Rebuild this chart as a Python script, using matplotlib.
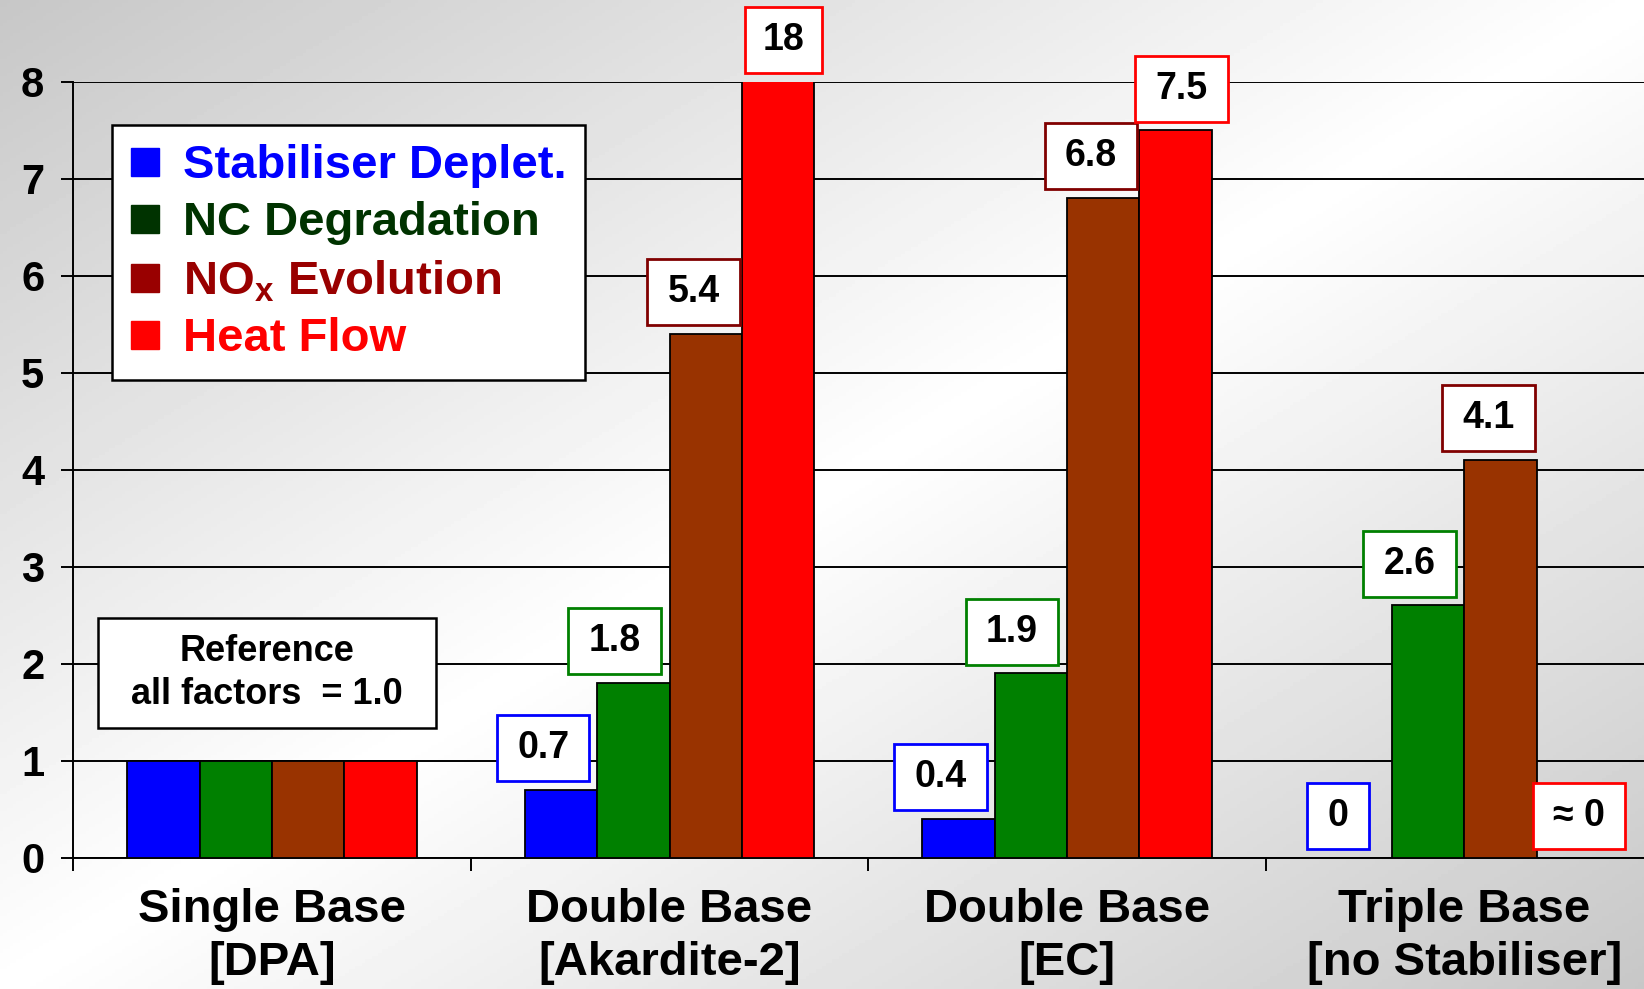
import matplotlib
matplotlib.use("Agg")
import matplotlib.pyplot as plt
import matplotlib.transforms as mtransforms
from matplotlib.lines import Line2D
from matplotlib.patches import Rectangle
import numpy as np

plt.rcParams["font.family"] = ["Liberation Sans", "DejaVu Sans"]
plt.rcParams["font.weight"] = "bold"
plt.rcParams["mathtext.fontset"] = "custom"
plt.rcParams["mathtext.rm"] = "Liberation Sans:bold"
plt.rcParams["mathtext.default"] = "rm"

categories = ["Single Base\n[DPA]", "Double Base\n[Akardite-2]",
              "Double Base\n[EC]", "Triple Base\n[no Stabiliser]"]
series = ["Stabiliser Deplet.", "NC Degradation", "NO$_x$ Evolution", "Heat Flow"]

stab = [1.0, 0.7, 0.4, 0.0]
nc = [1.0, 1.8, 1.9, 2.6]
nox = [1.0, 5.4, 6.8, 4.1]
heat = [1.0, 18.0, 7.5, 0.0]

stab_lbl = [None, "0.7", "0.4", "0"]
nc_lbl = [None, "1.8", "1.9", "2.6"]
nox_lbl = [None, "5.4", "6.8", "4.1"]
heat_lbl = [None, "18", "7.5", "\u2248 0"]

bar_colors = ["#0000FF", "#008000", "#993300", "#FF0000"]
text_colors = ["#0000FF", "#003300", "#990000", "#FF0000"]
box_colors = ["#0000FF", "#008000", "#800000", "#FF0000"]
lbl_dx = [-0.045, -0.047, -0.03, 0.015]

W, H = 1644, 989
fig = plt.figure(figsize=(W / 100, H / 100), dpi=100)

# background gradient (light along the anti-diagonal, grey at two corners)
bg = fig.add_axes([0, 0, 1, 1], zorder=-10)
yy, xx = np.mgrid[0:1:300j, 0:1:500j]
d = np.abs(xx + yy - 1)
bg.imshow(1 - 0.22 * d, cmap="gray", vmin=0, vmax=1, aspect="auto",
          extent=[0, 1, 1, 0])
bg.axis("off")

ax = fig.add_axes([73.4 / W, 1 - 857.6 / H, 1589.6 / W, 775.8 / H])
ax.set_facecolor("none")

x = np.arange(len(categories))
w = 0.182
ymax = 8
all_vals = [stab, nc, nox, heat]
all_lbls = [stab_lbl, nc_lbl, nox_lbl, heat_lbl]


def boxed(cx, cy, bw, bh, ec, lw):
    # rectangle of fixed size (inches) centred on a data point
    trans = fig.dpi_scale_trans + mtransforms.ScaledTranslation(cx, cy, ax.transData)
    ax.add_artist(Rectangle((-bw / 2, -bh / 2), bw, bh, transform=trans,
                            facecolor="white", edgecolor=ec,
                            linewidth=lw, clip_on=False, zorder=5))


for k, vals in enumerate(all_vals):
    xs = x + (k - 1.5) * w
    ax.bar(xs, vals, w, color=bar_colors[k], edgecolor="black", linewidth=1.3, zorder=3)
    for xi, v, lbl in zip(xs, vals, all_lbls[k]):
        if lbl is None:
            continue
        cx = xi + lbl_dx[k]
        cy = min(v, ymax) + 0.43
        boxed(cx, cy, 0.46 + 0.155 * len(lbl), 0.66, box_colors[k], 2)
        ax.text(cx, cy, lbl, ha="center", va="center", fontsize=27,
                fontweight="bold", color="black", zorder=6, clip_on=False)

ax.set_xlim(-0.5, 3.5)
ax.set_ylim(0, ymax)
ax.set_yticks(range(0, 9))
ax.yaxis.grid(True, color="black", linewidth=1.4, zorder=0)
ax.set_axisbelow(True)
ax.tick_params(axis="y", labelsize=30, length=9, width=1.4, pad=12)
ax.set_xticks(x)
ax.set_xticklabels(categories, fontsize=34, fontweight="bold", linespacing=1.25)
ax.tick_params(axis="x", length=0, pad=22)
ax.set_xticks([-0.5, 0.5, 1.5, 2.5], minor=True)
ax.tick_params(axis="x", which="minor", length=9, width=1.4)
for s in ["top", "right"]:
    ax.spines[s].set_visible(False)
for s in ["left", "bottom"]:
    ax.spines[s].set_linewidth(1.4)

# reference note
boxed(-0.013, 1.907, 3.385, 1.10, "black", 1.8)
ax.text(-0.013, 1.907, "Reference\nall factors  = 1.0", ha="center", va="center",
        fontsize=26, fontweight="bold", linespacing=1.3, zorder=6)

handles = [Line2D([], [], marker="s", linestyle="none", markersize=20,
                  markerfacecolor=c, markeredgecolor=c) for c in text_colors]
leg = ax.legend(handles, series, loc="upper left", bbox_to_anchor=(0.0243, 0.944),
                borderaxespad=0, frameon=True, fancybox=False, framealpha=1,
                handlelength=0.6, handletextpad=0.5, labelspacing=0.28,
                borderpad=0.4, prop={"size": 34, "weight": "bold"})
leg.get_frame().set_edgecolor("black")
leg.get_frame().set_linewidth(1.8)
leg.set_zorder(7)
for t, c in zip(leg.get_texts(), text_colors):
    t.set_color(c)

fig.savefig("out.png", dpi=100)
